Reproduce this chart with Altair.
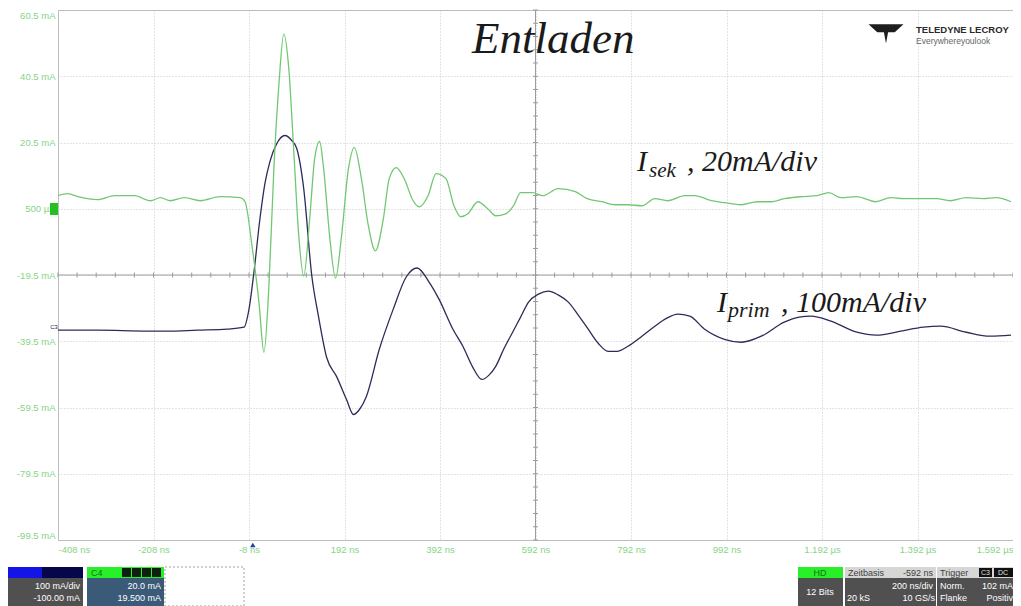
import altair as alt
import pandas as pd

# ---------------- data ----------------
# secondary current I_sek (channel C4, 20 mA/div) : time in ns, current in mA
sek_t_ns = [-408, -387.2, -366.3, -324.7, -289.3, -247.6, -214.3, -193.4, -172.6, -143.4,
            -110.1, -68.4, -26.7, -16.3, -1.7, 12.8, 23.3, 33.7, 44.1, 54.5,
            64.9, 75.3, 85.8, 96.2, 106.6, 119.1, 129.5, 139.9, 148.3, 160.8,
            173.3, 185.8, 200.3, 212.8, 227.4, 242.0, 256.6, 273.3, 285.7, 300.3,
            317.0, 335.7, 348.2, 367.0, 383.7, 404.5, 421.2, 435.8, 450.3, 471.2,
            492.0, 508.7, 529.5, 546.2, 560.8, 585.8, 606.6, 639.9, 675.3, 700.3,
            731.6, 758.7, 785.7, 814.9, 842.0, 869.0, 904.5, 925.3, 960.7, 987.8,
            1023.2, 1056.6, 1085.7, 1112.8, 1148.2, 1181.6, 1206.6, 1231.6, 1264.9, 1304.5,
            1335.8, 1362.8, 1389.9, 1431.6, 1460.7, 1494.1, 1529.5, 1556.6, 1587.9]
sek_mA = [4.44, 5.05, 4.14, 3.23, 4.44, 4.44, 2.92, 3.83, 2.92, 3.83,
          2.92, 4.14, 3.83, 2.62, -10.71, -27.68, -42.83, -22.83, 12.62, 37.77,
          53.23, 42.92, 17.77, -7.68, -19.80, -2.53, 15.65, 20.80, 12.62, -7.68,
          -20.41, -7.68, 12.62, 18.98, 9.59, -4.65, -12.23, -2.53, 9.59, 12.92,
          9.59, 2.92, 1.11, 4.44, 11.11, 9.59, 1.41, -1.92, -1.02, 2.62,
          0.50, -1.62, -1.02, 1.41, 5.35, 5.35, 4.44, 6.56, 5.65, 3.53,
          2.62, 1.71, 1.71, 1.41, 3.53, 2.92, 4.44, 4.44, 2.92, 2.32,
          1.71, 2.62, 2.62, 3.53, 4.14, 4.44, 5.35, 3.83, 4.14, 2.62,
          3.83, 3.53, 3.53, 3.53, 2.92, 3.83, 3.53, 3.83, 2.62]

# primary current I_prim (channel C3, 100 mA/div, offset -100 mA)
prim_t_ns = [-408, -324.7, -220.5, -178.8, -116.3, -53.8, -18.4, -8.0, 2.4, 14.9,
             25.3, 35.8, 50.3, 67.0, 81.6, 92.0, 106.6, 123.3, 137.8, 154.5,
             175.3, 196.2, 210.8, 223.3, 237.8, 264.9, 294.1, 321.2, 344.1, 369.1,
             389.9, 419.1, 439.9, 460.8, 479.5, 494.1, 508.7, 525.3, 544.1, 560.8,
             577.4, 598.3, 619.1, 639.9, 660.8, 681.6, 702.4, 723.3, 744.1, 762.8,
             785.7, 814.9, 842.0, 867.0, 890.0, 915.0, 946.2, 987.8, 1023.2, 1064.9,
             1112.8, 1144.0, 1169.0, 1210.7, 1264.9, 1306.6, 1356.6, 1404.5, 1439.9, 1494.1,
             1544.1, 1587.9]
prim_mA = [16.7, 16.7, 15.2, 15.2, 16.7, 18.2, 21.2, 48.5, 104.5, 184.9,
           237.9, 271.2, 298.5, 310.6, 303.0, 290.9, 230.3, 100.0, 36.4, -24.2,
           -53.0, -87.9, -110.6, -103.0, -83.3, -12.1, 48.5, 97.0, 110.6, 89.4,
           63.6, 18.2, -7.6, -39.4, -57.6, -51.5, -37.9, -12.1, 13.6, 36.4,
           59.1, 71.2, 75.8, 69.7, 59.1, 39.4, 18.2, -3.0, -15.2, -15.2,
           -7.6, 7.6, 22.7, 34.9, 40.9, 37.9, 18.2, 3.0, -1.5, 7.6,
           28.8, 36.4, 37.9, 30.3, 13.6, 9.1, 15.2, 21.2, 22.7, 13.6,
           7.6, 9.1]

x_tick_ns = [-408, -208, -8, 192, 392, 592, 792, 992, 1192, 1392, 1592]
x_tick_labels = ["-408 ns", "-208 ns", "-8 ns", "192 ns", "392 ns", "592 ns",
                 "792 ns", "992 ns", "1.192 µs", "1.392 µs", "1.592 µs"]
y_tick_mA = [60.5, 40.5, 20.5, 0.5, -19.5, -39.5, -59.5, -79.5, -99.5]
y_tick_labels = ["60.5 mA", "40.5 mA", "20.5 mA", "500 µA", "-19.5 mA",
                 "-39.5 mA", "-59.5 mA", "-79.5 mA", "-99.5 mA"]

# minor division marks on the centre cross (5 per division)
minor_t = [-408 + 40 * k for k in range(51)]
minor_v = [-99.5 + 4 * k for k in range(41)]

# ---------------- layout / styling ----------------
PLOT_LEFT, PLOT_TOP = 58, 10      # page pixels of the plot's top-left corner
PLOT_W, PLOT_H = 955, 530
GREEN_LBL = "#86d486"
SANS = "Liberation Sans"
SERIF = "Liberation Serif"


def expr_from(values, labels):
    e = "''"
    for v, l in reversed(list(zip(values, labels))):
        e = f"(datum.value == {v} ? '{l}' : {e})"
    return e


xscale = alt.Scale(domain=[-408, 1592], nice=False, zero=False)
yscale = alt.Scale(domain=[-99.5, 60.5], nice=False, zero=False)
xaxis = alt.Axis(values=x_tick_ns, labelExpr=expr_from(x_tick_ns, x_tick_labels), title=None,
                 grid=True, gridColor="#c9c9c9", gridDash=[1, 2], domain=False, ticks=False,
                 labelFlush=True, labelColor=GREEN_LBL, labelFont=SANS, labelFontSize=9.5,
                 labelPadding=4)
yaxis = alt.Axis(values=y_tick_mA, labelExpr=expr_from(y_tick_mA, y_tick_labels), title=None,
                 grid=True, gridColor="#c9c9c9", gridDash=[1, 2], domain=False, ticks=False,
                 labelFlush=True, labelColor=GREEN_LBL, labelFont=SANS, labelFontSize=9.5,
                 labelPadding=3)


def X(f):
    return alt.X(f"{f}:Q", scale=xscale, axis=xaxis)


def Y(f):
    return alt.Y(f"{f}:Q", scale=yscale, axis=yaxis)


one = pd.DataFrame({"a": [0]})


def px(x):  # page px -> plot px
    return alt.value(x - PLOT_LEFT)


def py(y):
    return alt.value(y - PLOT_TOP)


def ui_rect(x1, y1, x2, y2, fill, stroke=None, dash=None):
    kw = dict(fill=fill)
    if stroke:
        kw.update(stroke=stroke, strokeWidth=1)
    if dash:
        kw.update(strokeDash=dash)
    return alt.Chart(one).mark_rect(**kw).encode(x=px(x1), x2=px(x2), y=py(y1), y2=py(y2))


def ui_text(x, y, text, color="#ffffff", size=9, align="left", weight="normal", font=SANS):
    return alt.Chart(one).mark_text(text=text, color=color, fontSize=size, align=align,
                                    baseline="middle", fontWeight=weight, font=font).encode(
        x=px(x), y=py(y))


# ---------------- layers ----------------
sek_df = pd.DataFrame({"t": sek_t_ns, "v": sek_mA})
prim_df = pd.DataFrame({"t": prim_t_ns, "i": prim_mA})

centre_v = alt.Chart(pd.DataFrame({"t": [592]})).mark_rule(color="#9c9c9c", strokeWidth=1).encode(x=X("t"))
centre_h = alt.Chart(pd.DataFrame({"v": [-19.5]})).mark_rule(color="#9c9c9c", strokeWidth=1).encode(y=Y("v"))
ticks_h = alt.Chart(pd.DataFrame({"t": minor_t, "v": [-19.5] * len(minor_t)})).mark_tick(
    orient="vertical", size=5, thickness=1, color="#9c9c9c", opacity=1).encode(x=X("t"), y=Y("v"))
ticks_v = alt.Chart(pd.DataFrame({"v": minor_v, "t": [592] * len(minor_v)})).mark_tick(
    orient="horizontal", size=5, thickness=1, color="#9c9c9c", opacity=1).encode(x=X("t"), y=Y("v"))

prim_line = alt.Chart(prim_df).transform_calculate(
    v="-19.5 + (datum.i - 100) * 0.2"  # C3 scale 100 mA/div onto the C4 grid
).mark_line(color="#2c2c58", strokeWidth=1.3, interpolate="monotone").encode(x=X("t"), y=Y("v"))

sek_line = alt.Chart(sek_df).mark_line(color="#72c872", strokeWidth=1.3, interpolate="monotone").encode(
    x=X("t"), y=Y("v"))


def note(t, v, text, size):
    return alt.Chart(pd.DataFrame({"t": [t], "v": [v]})).mark_text(
        text=text, font=SERIF, fontStyle="italic", fontSize=size, align="left",
        baseline="alphabetic", color="#1a1a1a").encode(x=X("t"), y=Y("v"))


notes = [
    note(459.0, 47.5, "Entladen", 45),
    note(804.5, 12.0, "I", 30),
    note(829.7, 10.2, "sek", 21),
    note(909.3, 12.0, ", 20mA/div", 30),
    note(972.1, -30.7, "I", 30),
    note(995.1, -32.2, "prim", 22),
    note(1106.1, -30.7, ", 100mA/div", 30),
]

trigger_mark = alt.Chart(pd.DataFrame({"t": [0]})).mark_point(
    shape="triangle-up", filled=True, size=30, color="#2040a0", opacity=1).encode(x=X("t"), y=alt.value(535))

# channel markers on the left edge
c4_marker = [ui_rect(50, 203, 58, 215, "#22c022")]
c3_marker = [ui_text(54, 327, "C3", color="#202050", size=6, align="center")]

# logo
logo = [
    alt.Chart(one).mark_point(
        shape="M-1,-0.5 L1,-0.5 L0.5,-0.05 L0.12,-0.05 L0,0.6 L-0.12,-0.05 L-0.5,-0.05 Z",
        filled=True, size=1225, color="#1e1e1e", opacity=1).encode(x=px(886), y=py(33)),
    ui_text(916, 30, "TELEDYNE LECROY", color="#2a2a2a", size=9.5, weight="bold"),
    ui_text(916, 41, "Everywhereyoulook", color="#666666", size=8.5),
]

# instrument status bar
T1, B1, R1, R2, B2 = 567, 578, 586, 598, 606
S = -8  # right-hand group shifted to fit the page width
ui = [
    ui_rect(7, T1, 42, B1, "#1414e6"),
    ui_rect(42, T1, 83, B1, "#06064a"),
    ui_rect(7, B1, 83, B2, "#505050"),
    ui_text(80, R1, "100 mA/div", align="right"),
    ui_text(80, R2, "-100.00 mA", align="right"),
    ui_rect(87, T1, 164, B1, "#28f028"),
    ui_text(91, (T1 + B1) / 2, "C4", color="#147014"),
    ui_rect(122, T1 + 1, 131, B1 - 1, "#102010"),
    ui_rect(132, T1 + 1, 141, B1 - 1, "#102010"),
    ui_rect(142, T1 + 1, 151, B1 - 1, "#102010"),
    ui_rect(152, T1 + 1, 161, B1 - 1, "#102010"),
    ui_rect(87, B1, 164, B2, "#3a5a78"),
    ui_text(161, R1, "20.0 mA", align="right"),
    ui_text(161, R2, "19.500 mA", align="right"),
    ui_rect(165, T1, 244, B2, "#ffffff", stroke="#a0a0a0", dash=[2, 2]),
    ui_rect(806 + S, T1, 851 + S, B1, "#28f028"),
    ui_text(828 + S, (T1 + B1) / 2, "HD", color="#147014", align="center"),
    ui_rect(806 + S, B1, 851 + S, B2, "#505050"),
    ui_text(828 + S, (B1 + B2) / 2, "12 Bits", align="center"),
    ui_rect(853 + S, T1, 944 + S, B1, "#d6d6d6"),
    ui_text(856 + S, (T1 + B1) / 2, "Zeitbasis", color="#404040"),
    ui_text(941 + S, (T1 + B1) / 2, "-592 ns", color="#404040", align="right"),
    ui_rect(853 + S, B1, 944 + S, B2, "#505050"),
    ui_text(941 + S, R1, "200 ns/div", align="right"),
    ui_text(855 + S, R2, "20 kS"),
    ui_text(943 + S, R2, "10 GS/s", align="right"),
    ui_rect(945 + S, T1, 1021 + S, B1, "#d6d6d6"),
    ui_text(948 + S, (T1 + B1) / 2, "Trigger", color="#404040"),
    ui_rect(987 + S, T1 + 1, 1000 + S, B1 - 1, "#101010"),
    ui_text(993.5 + S, (T1 + B1) / 2, "C3", color="#e0e0e0", size=7, align="center"),
    ui_rect(1002 + S, T1 + 1, 1021 + S, B1 - 1, "#101010"),
    ui_text(1011 + S, (T1 + B1) / 2, "DC", color="#e0e0e0", size=7, align="center"),
    ui_rect(945 + S, B1, 1021 + S, B2, "#505050"),
    ui_text(948 + S, R1, "Norm."),
    ui_text(1021 + S, R1, "102 mA", align="right"),
    ui_text(948 + S, R2, "Flanke"),
    ui_text(1021 + S, R2, "Positiv", align="right"),
]

chart = alt.layer(
    centre_v, centre_h, ticks_h, ticks_v, prim_line, sek_line, *notes, trigger_mark,
    *c4_marker, *c3_marker, *logo, *ui
).properties(
    width=PLOT_W, height=PLOT_H,
    autosize=alt.AutoSizeParams(type="none"),
    padding={"left": PLOT_LEFT - 8, "top": PLOT_TOP - 8, "right": 0, "bottom": 66},
    background="#ffffff",
).configure_view(stroke="#b8b8b8", strokeWidth=1)

chart.save("out.html", embed_options={"renderer": "svg", "actions": False})
